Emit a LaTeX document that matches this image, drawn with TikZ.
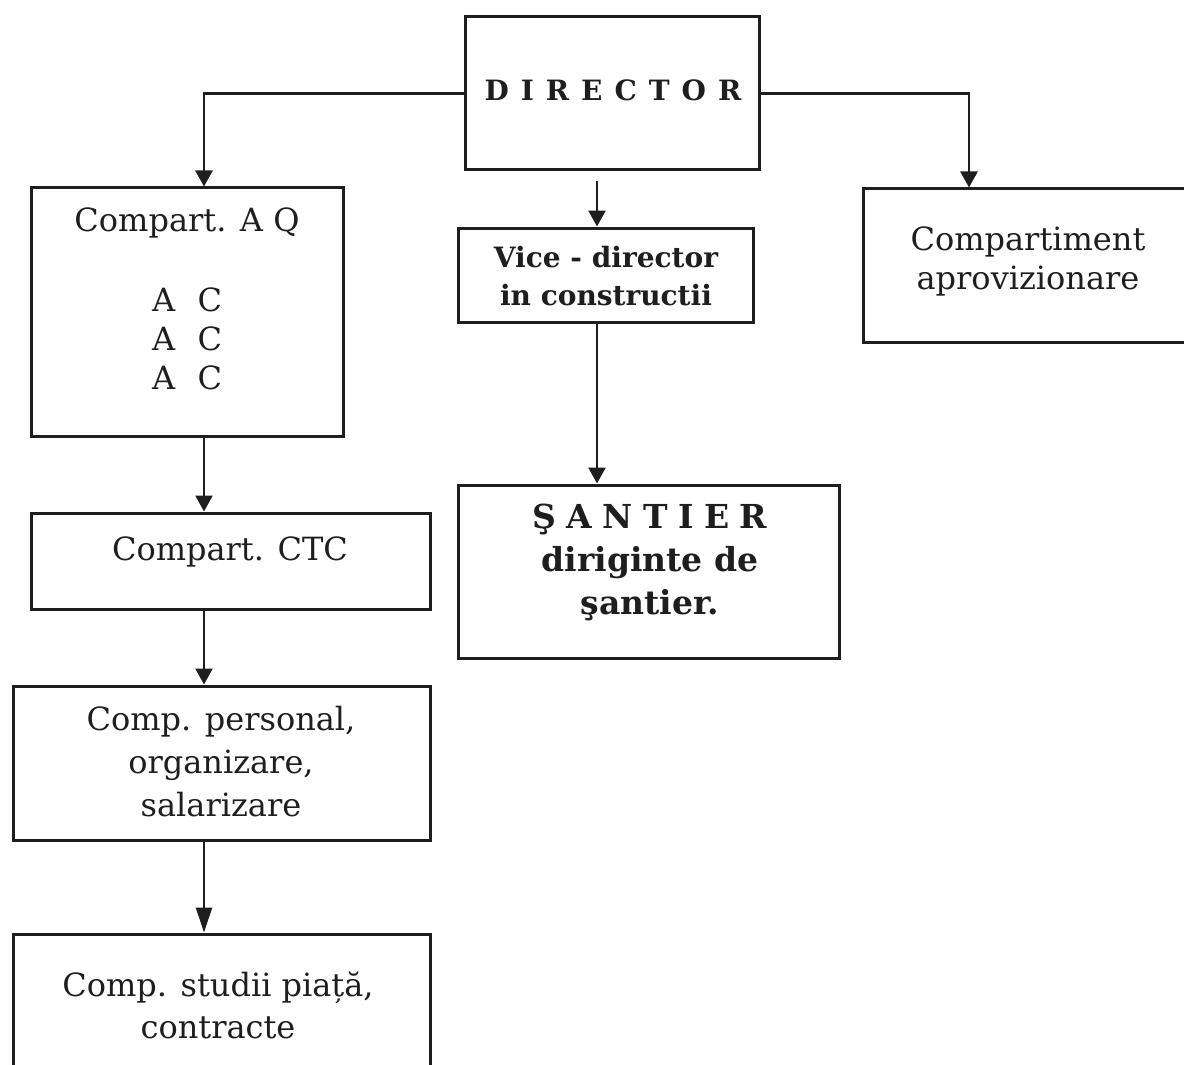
\documentclass[tikz,border=0pt]{standalone}
\usepackage{fontspec}
\setmainfont{DejaVu Serif}
\usetikzlibrary{arrows.meta}
\definecolor{ink}{HTML}{1E1E1E}
\newcommand{\spaceletters}[2]{\foreach \ch [count=\k] in {#2}{\ifnum\k>1\hspace{#1}\fi\ch}}

\begin{document}
\begin{tikzpicture}[x=0.5pt, y=-0.5pt,
		box/.style = {draw=ink, line width=1.5pt, inner sep=0pt},
		txt/.style = {inner sep=0pt, align=center, text=ink, font=\fontsize{16}{19.5}\selectfont},
		heavy/.style = {txt, font=\bfseries\fontsize{14}{19}\selectfont},
		arr/.style = {draw=ink, line width=1.3pt, -{Triangle[width=8.5pt, length=8pt]}},
		bighead/.style = {-{Triangle[width=8pt, length=12.5pt]}}]
	\useasboundingbox (0,0) rectangle (1184,1065);
	\clip (0,0) rectangle (1184,1065);

	% boxes
	\node[box, minimum width=147pt, minimum height=76.5pt] (director) at (612,93.5) {};
	\node[box, minimum width=156pt, minimum height=124pt] (aq) at (187,312) {};
	\node[box, minimum width=147.5pt, minimum height=47pt] (vice) at (605.5,275) {};
	\node[box, minimum width=166pt, minimum height=76.5pt] (aprov) at (1029,265.5) {};
	\node[box, minimum width=199.5pt, minimum height=48pt] (ctc) at (230.5,561) {};
	\node[box, minimum width=208.5pt, minimum height=77pt] (pers) at (221.5,763) {};
	\node[box, minimum width=208.5pt, minimum height=83pt] (studii) at (221.5,1017) {};
	\node[box, minimum width=190.5pt, minimum height=86.5pt] (santier) at (648.5,571.5) {};

	% texts
	\node[txt, font=\bfseries\fontsize{14}{16}\selectfont] (txtdirector) at (613,90.5) {\spaceletters{6pt}{D,I,R,E,C,T,O,R}};
	\node[txt] (txtaq) at (187,299) {Compart. A Q\\[20.5pt]A\hspace{.7em}C\\A\hspace{.7em}C\\A\hspace{.7em}C};
	\node[heavy] (txtvice) at (606,276) {Vice - director\\in constructii};
	\node[txt] (txtaprov) at (1028,261) {Compartiment\\aprovizionare};
	\node[txt] (txtctc) at (230,552) {Compart. CTC};
	\node[txt, font=\fontsize{16}{21.5}\selectfont] (txtpers) at (221,762) {Comp. personal,\\organizare,\\salarizare};
	\node[txt, font=\fontsize{16}{21}\selectfont] (txtstudii) at (218,1005) {Comp. studii piață,\\contracte};
	\node[heavy, font=\bfseries\fontsize{16.5}{21.5}\selectfont] (txtsantier) at (650,562) {\spaceletters{5.2pt}{Ş,A,N,T,I,E,R}\\diriginte de\\şantier.};

	% drop lines
	\coordinate (spine) at (204,0);
	\coordinate (rdrop) at (969,0);
	\coordinate (vdrop) at (597,0);

	\draw[arr] (director.west) -| (aq.north -| spine);
	\draw[arr] (director.east) -| (aprov.north -| rdrop);
	\draw[arr, shorten <=5pt] (director.south -| vdrop) -- (vice.north -| vdrop);
	\draw[arr] (vice.south -| vdrop) -- (santier.north -| vdrop);
	\draw[arr] (aq.south -| spine) -- (ctc.north -| spine);
	\draw[arr] (ctc.south -| spine) -- (pers.north -| spine);
	\draw[arr, bighead] (pers.south -| spine) -- (studii.north -| spine);
\end{tikzpicture}
\end{document}
